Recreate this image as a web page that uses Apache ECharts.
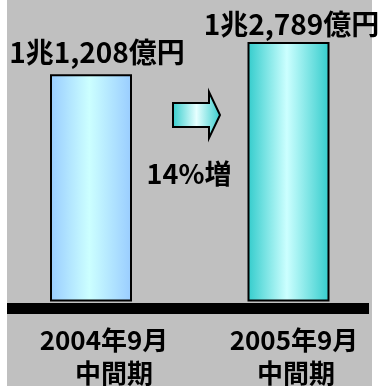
<!DOCTYPE html>
<html>
<head>
<meta charset="utf-8">
<script src="https://cdn.jsdelivr.net/npm/echarts@6/dist/echarts.min.js"></script>
<style>
  html, body { margin: 0; padding: 0; background: #ffffff; }
  #chart { width: 382px; height: 386px; }
</style>
</head>
<body>
<div id="chart"></div>
<script>
// 中間期の売上高（単位：億円）
const periods = ['2004年9月', '2005年9月'];
const periodSuffix = ['中間期', '中間期'];
const sales = [11208, 12789];

const FONT = '"Noto Sans CJK JP", "Noto Sans", sans-serif';

// 11208 -> "1兆1,208億円"
function yenLabel(v) {
  const cho = Math.floor(v / 10000);
  const oku = v % 10000;
  return cho + '兆' + oku.toLocaleString('en-US') + '億円';
}

// 前年同期比の伸び率
const growthPct = Math.round((sales[1] / sales[0] - 1) * 100);

function hGrad(edge, mid) {
  return new echarts.graphic.LinearGradient(0, 0, 1, 0, [
    { offset: 0, color: edge },
    { offset: 0.48, color: mid },
    { offset: 1, color: edge }
  ]);
}

const barFills = [hGrad('#99ccff', '#ccffff'), hGrad('#33cccc', '#ccffff')];
const labelOffsets = [[6, -8], [3, -4]];

const barData = sales.map((v, i) => ({
  value: v,
  itemStyle: { color: barFills[i] },
  label: { offset: labelOffsets[i] }
}));

const chart = echarts.init(document.getElementById('chart'), null, { renderer: 'canvas' });

chart.setOption({
  backgroundColor: '#ffffff',
  animation: false,
  grid: { left: 91, right: 93.5, top: 17.5, bottom: 83 },
  xAxis: {
    type: 'category',
    data: periods,
    boundaryGap: false,
    axisLine: { show: false },
    axisTick: { show: false },
    splitLine: { show: false },
    axisLabel: {
      interval: 0,
      margin: 22,
      color: '#000',
      formatter: (val, idx) => `{a${idx}|${val}}\n{b${idx}|${periodSuffix[idx]}}`,
      rich: {
        a0: { fontFamily: FONT, fontSize: 26, fontWeight: 'bold', color: '#000', lineHeight: 33, padding: [0, 0, 0, 26] },
        b0: { fontFamily: FONT, fontSize: 26, fontWeight: 'bold', color: '#000', lineHeight: 33, padding: [0, 0, 0, 46] },
        a1: { fontFamily: FONT, fontSize: 26, fontWeight: 'bold', color: '#000', lineHeight: 33, padding: [0, 0, 0, 11] },
        b1: { fontFamily: FONT, fontSize: 26, fontWeight: 'bold', color: '#000', lineHeight: 33, padding: [0, 0, 0, 15] }
      }
    }
  },
  yAxis: {
    type: 'value',
    min: 0,
    max: 14000,
    show: false,
    splitLine: { show: false }
  },
  series: [{
    type: 'bar',
    data: barData,
    barWidth: 82,
    itemStyle: { borderColor: '#000', borderWidth: 2 },
    label: {
      show: true,
      position: 'top',
      distance: 0,
      formatter: p => yenLabel(p.value),
      fontFamily: FONT,
      fontSize: 28,
      fontWeight: 'bold',
      color: '#000'
    },
    z: 2
  }],
  graphic: [
    // 背景パネル
    {
      type: 'rect', z: -10, silent: true,
      shape: { x: 7, y: 0, width: 365, height: 386 },
      style: { fill: '#c0c0c0' }
    },
    // 基準線
    {
      type: 'rect', z: 100, silent: true,
      shape: { x: 7, y: 303, width: 362, height: 11 },
      style: { fill: '#000' }
    },
    // 増加を示す矢印
    {
      type: 'polygon', z: 50, silent: true,
      shape: { points: [[173, 103], [209, 103], [209, 92], [220, 115], [209, 138], [209, 127], [173, 127]] },
      style: {
        fill: new echarts.graphic.LinearGradient(0, 0, 1, 0, [
          { offset: 0, color: '#33cccc' },
          { offset: 0.5, color: '#e6ffff' },
          { offset: 1, color: '#33cccc' }
        ]),
        stroke: '#000',
        lineWidth: 2
      }
    },
    {
      type: 'text', z: 50, silent: true,
      x: 189, y: 174,
      style: {
        text: growthPct + '%増',
        fill: '#000',
        font: 'bold 27px ' + FONT,
        align: 'center',
        verticalAlign: 'middle'
      }
    }
  ]
});
</script>
</body>
</html>
